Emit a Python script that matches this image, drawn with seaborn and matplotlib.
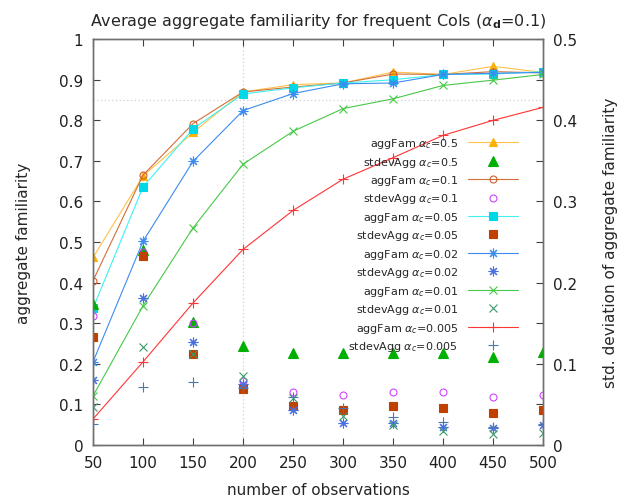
import matplotlib
matplotlib.use("Agg")
import matplotlib.pyplot as plt
import seaborn as sns
import numpy as np
from matplotlib.ticker import MultipleLocator

# ---- data ----
observations = [50, 100, 150, 200, 250, 300, 350, 400, 450, 500]

agg_05   = [0.462, 0.663, 0.770, 0.870, 0.888, 0.892, 0.919, 0.913, 0.933, 0.918]
agg_01   = [0.405, 0.665, 0.792, 0.870, 0.882, 0.892, 0.914, 0.913, 0.920, 0.917]
agg_005  = [0.337, 0.636, 0.779, 0.865, 0.880, 0.892, 0.900, 0.913, 0.914, 0.920]
agg_002  = [0.205, 0.502, 0.699, 0.824, 0.866, 0.890, 0.892, 0.913, 0.916, 0.918]
agg_001  = [0.121, 0.343, 0.535, 0.692, 0.773, 0.829, 0.853, 0.886, 0.899, 0.913]
agg_0005 = [0.064, 0.205, 0.350, 0.482, 0.578, 0.655, 0.708, 0.763, 0.800, 0.832]

std_05   = [0.1735, 0.2405, 0.152, 0.1225, 0.113, 0.1135, 0.1135, 0.1135, 0.1085, 0.114]
std_01   = [0.1585, 0.2375, 0.150, 0.079, 0.0655, 0.062, 0.065, 0.065, 0.0595, 0.062]
std_005  = [0.1325, 0.233, 0.112, 0.069, 0.0485, 0.043, 0.048, 0.0455, 0.0395, 0.0435]
std_002  = [0.080, 0.1805, 0.1265, 0.0755, 0.0425, 0.0265, 0.027, 0.022, 0.0205, 0.024]
std_001  = [0.047, 0.121, 0.112, 0.0845, 0.0575, 0.0355, 0.024, 0.0175, 0.013, 0.015]
std_0005 = [0.026, 0.072, 0.0775, 0.070, 0.059, 0.045, 0.034, 0.028, 0.0225, 0.026]

alpha_labels = ["0.5", "0.1", "0.05", "0.02", "0.01", "0.005"]

sns.set_theme(style="ticks")
plt.rcParams["font.family"] = ["DejaVu Sans"]
plt.rcParams["mathtext.fontset"] = "dejavusans"

fig = plt.figure(figsize=(6.33, 5.02), dpi=100)
ax = fig.add_axes([0.147, 0.1116, 0.711, 0.8084])
ax2 = ax.twinx()

ASTER = (8, 2, 0)

agg_styles = [
    dict(data=agg_05,   color="#ffc04a", marker="^", mfc="#ffb000", mec="#ffb000", ms=6),
    dict(data=agg_01,   color="#d0703a", marker="o", mfc="none", mec="#d0602a", ms=5),
    dict(data=agg_005,  color="#40f0f0", marker="s", mfc="#00d8e8", mec="#00d8e8", ms=5.5),
    dict(data=agg_002,  color="#3c8cf0", marker=ASTER, mfc="#3c8cf0", mec="#3c8cf0", ms=7),
    dict(data=agg_001,  color="#48c848", marker="x", mfc="#48c848", mec="#48c848", ms=6),
    dict(data=agg_0005, color="#ff3434", marker="+", mfc="#ff3434", mec="#ff3434", ms=7),
]
std_styles = [
    dict(data=std_05,   color="#00b000", marker="^", mfc="#00b000", mec="#00b000", ms=6.5),
    dict(data=std_01,   color="#cc44ff", marker="o", mfc="none", mec="#cc44ff", ms=5),
    dict(data=std_005,  color="#c04000", marker="s", mfc="#c04000", mec="#c04000", ms=5.5),
    dict(data=std_002,  color="#4a70e0", marker=ASTER, mfc="#4a70e0", mec="#4a70e0", ms=7),
    dict(data=std_001,  color="#3a9a6a", marker="x", mfc="#3a9a6a", mec="#3a9a6a", ms=6),
    dict(data=std_0005, color="#4a78a8", marker="+", mfc="#4a78a8", mec="#4a78a8", ms=7),
]

handles = []
labels = []
for a, st_a, st_s in zip(alpha_labels, agg_styles, std_styles):
    la = r"aggFam $\alpha_{c}$=" + a
    ls_ = r"stdevAgg $\alpha_{c}$=" + a
    sns.lineplot(x=observations, y=st_a["data"], ax=ax, color=st_a["color"], lw=0.8,
                 marker=st_a["marker"], mfc=st_a["mfc"], mec=st_a["mec"], ms=st_a["ms"],
                 mew=0.8, label=la, legend=False)
    sns.lineplot(x=observations, y=st_s["data"], ax=ax2, color=st_s["color"], ls="none",
                 marker=st_s["marker"], mfc=st_s["mfc"], mec=st_s["mec"], ms=st_s["ms"],
                 mew=0.8, label=ls_, legend=False)
    handles.append(ax.get_lines()[-1]); labels.append(la)
    handles.append(ax2.get_lines()[-1]); labels.append(ls_)

# grid lines (only at x=200 and y=0.85)
ax.axvline(200, color="#d0d0d0", ls=(0, (1, 2)), lw=0.9, zorder=0)
ax.axhline(0.85, color="#d0d0d0", ls=(0, (1, 2)), lw=0.9, zorder=0)

ax.set_xlim(50, 500)
ax.set_ylim(0, 1)
ax2.set_ylim(0, 0.5)
ax.set_xticks(observations)
ax.set_yticks(np.arange(0, 1.01, 0.1))
ax.set_yticklabels(["0", "0.1", "0.2", "0.3", "0.4", "0.5", "0.6", "0.7", "0.8", "0.9", "1"])
ax2.set_yticks(np.arange(0, 0.51, 0.1))
ax2.set_yticklabels(["0", "0.1", "0.2", "0.3", "0.4", "0.5"])
ax2.yaxis.set_minor_locator(MultipleLocator(0.05))

for a_ in (ax, ax2):
    for sp in a_.spines.values():
        sp.set_visible(True)
        sp.set_color("#707070")
        sp.set_linewidth(1.0)

ax.tick_params(axis="both", which="both", direction="in", length=5, width=0.8,
               color="#404040", labelsize=11, labelcolor="#202020", top=True, pad=7)
ax2.tick_params(axis="y", which="both", direction="in", length=5, width=0.8,
                color="#404040", labelsize=11, labelcolor="#202020", pad=7)

ax.set_xlabel("number of observations", fontsize=11, labelpad=9)
ax.set_ylabel("aggregate familiarity", fontsize=11, labelpad=20)
ax2.set_ylabel("std. deviation of aggregate familiarity", fontsize=11, labelpad=19)
ax.set_title(r"Average aggregate familiarity for frequent CoIs ($\alpha_{\mathbf{d}}$=0.1)",
             fontsize=11.5, pad=10)

leg = ax2.legend(handles, labels, loc="upper right", bbox_to_anchor=(0.955, 0.772),
                 frameon=False, markerfirst=False, fontsize=8, handlelength=4.5,
                 handletextpad=0.9, labelspacing=0.40, borderaxespad=0)

fig.savefig("out.png", dpi=100)
